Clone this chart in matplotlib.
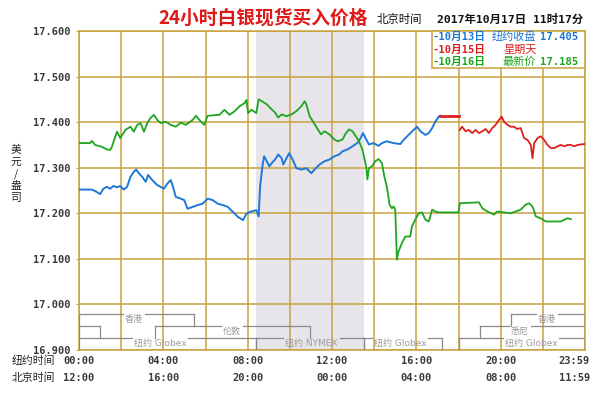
import matplotlib
matplotlib.use('Agg')
import matplotlib.pyplot as plt
import matplotlib.transforms as mtrans
from matplotlib.patches import Rectangle

plt.rcParams['font.family'] = ['DejaVu Sans', 'Noto Sans CJK SC']

# ---------------- data ----------------
blue_hours = [0, 0.61, 0.84, 1.00, 1.16, 1.32, 1.48, 1.64, 1.80, 1.96, 2.12, 2.28, 2.44, 2.60, 2.71, 2.84,
              3.00, 3.16, 3.28, 3.47, 3.71, 3.87, 4.03, 4.19, 4.35, 4.46, 4.59, 4.83, 4.99, 5.15, 5.39,
              5.63, 5.86, 6.10, 6.34, 6.58, 6.82, 7.06, 7.30, 7.54, 7.78, 7.94, 8.10, 8.41, 8.52, 8.59,
              8.70, 8.78, 8.91, 9.03, 9.14, 9.30, 9.45, 9.61, 9.69, 9.84, 9.97, 10.13, 10.31, 10.55,
              10.78, 11.02, 11.17, 11.41, 11.64, 11.88, 12.11, 12.34, 12.50, 12.73, 12.97, 13.20,
              13.36, 13.47, 13.59, 13.75, 13.97, 14.21, 14.37, 14.60, 14.92, 15.24, 15.40, 15.63,
              15.87, 16.03, 16.19, 16.43, 16.59, 16.75, 16.90, 17.06, 17.14]
blue_vals = [17.252, 17.252, 17.247, 17.242, 17.254, 17.258, 17.254, 17.260, 17.257, 17.260, 17.252,
             17.258, 17.280, 17.291, 17.296, 17.288, 17.280, 17.269, 17.284, 17.273, 17.262, 17.258,
             17.254, 17.265, 17.273, 17.258, 17.236, 17.232, 17.229, 17.210, 17.214, 17.218, 17.221,
             17.232, 17.229, 17.221, 17.218, 17.214, 17.203, 17.192, 17.185, 17.199, 17.203, 17.207,
             17.193, 17.259, 17.303, 17.325, 17.314, 17.303, 17.310, 17.318, 17.329, 17.321, 17.307,
             17.321, 17.332, 17.318, 17.299, 17.296, 17.299, 17.288, 17.296, 17.307, 17.314, 17.318,
             17.325, 17.329, 17.336, 17.340, 17.347, 17.354, 17.365, 17.376, 17.365, 17.351, 17.354,
             17.348, 17.354, 17.358, 17.354, 17.352, 17.361, 17.372, 17.383, 17.390, 17.380, 17.372,
             17.376, 17.387, 17.401, 17.412, 17.414]

red_flat_hours = [17.14, 18.0]
red_flat_vals = [17.413, 17.413]

red_hours = [18.06, 18.17, 18.33, 18.49, 18.65, 18.81, 18.97, 19.13, 19.29, 19.44, 19.60, 19.76, 19.92,
             20.05, 20.16, 20.32, 20.48, 20.63, 20.79, 20.95, 21.11, 21.27, 21.43, 21.51, 21.59, 21.75,
             21.90, 22.06, 22.22, 22.38, 22.54, 22.70, 22.86, 23.02, 23.17, 23.33, 23.49, 23.65, 23.97]
red_vals = [17.383, 17.390, 17.380, 17.383, 17.376, 17.383, 17.376, 17.380, 17.385, 17.376, 17.387,
            17.394, 17.405, 17.412, 17.401, 17.394, 17.390, 17.390, 17.385, 17.387, 17.365, 17.361,
            17.350, 17.321, 17.354, 17.365, 17.369, 17.361, 17.350, 17.343, 17.343, 17.347, 17.350,
            17.347, 17.350, 17.350, 17.347, 17.350, 17.352]

green_hours = [0, 0.53, 0.61, 0.76, 1.08, 1.32, 1.48, 1.56, 1.80, 1.96, 2.20, 2.44, 2.60, 2.76, 2.92,
               3.08, 3.24, 3.39, 3.55, 3.71, 3.87, 4.11, 4.35, 4.59, 4.83, 5.07, 5.39, 5.55, 5.78, 5.94,
               6.10, 6.66, 6.90, 7.14, 7.38, 7.62, 7.86, 7.94, 8.02, 8.18, 8.41, 8.52, 8.67, 8.91, 9.14,
               9.30, 9.45, 9.61, 9.84, 10.08, 10.31, 10.55, 10.70, 10.78, 10.94, 11.09, 11.33, 11.48,
               11.64, 11.88, 12.11, 12.27, 12.50, 12.66, 12.81, 12.97, 13.13, 13.28, 13.44, 13.62,
               13.68, 13.75, 13.89, 14.05, 14.21, 14.37, 14.48, 14.60, 14.73, 14.84, 14.92, 15.00,
               15.08, 15.13, 15.32, 15.48, 15.71, 15.79, 15.95, 16.11, 16.27, 16.43, 16.59, 16.75,
               16.90, 17.06, 18.00, 18.06, 18.97, 19.13, 19.37, 19.68, 19.84, 20.16, 20.48, 20.71,
               20.95, 21.19, 21.35, 21.51, 21.67, 21.90, 22.14, 22.86, 23.02, 23.17, 23.33]
green_vals = [17.354, 17.354, 17.359, 17.350, 17.346, 17.340, 17.339, 17.346, 17.379, 17.365, 17.383,
              17.390, 17.379, 17.394, 17.398, 17.379, 17.398, 17.409, 17.416, 17.405, 17.398, 17.401,
              17.394, 17.390, 17.399, 17.394, 17.405, 17.414, 17.401, 17.394, 17.414, 17.416, 17.427,
              17.416, 17.424, 17.435, 17.442, 17.449, 17.420, 17.427, 17.420, 17.450, 17.446, 17.439,
              17.428, 17.421, 17.410, 17.417, 17.413, 17.417, 17.424, 17.435, 17.446, 17.439, 17.413,
              17.402, 17.384, 17.373, 17.380, 17.373, 17.362, 17.358, 17.362, 17.376, 17.384, 17.380,
              17.369, 17.358, 17.340, 17.303, 17.274, 17.299, 17.303, 17.314, 17.319, 17.310, 17.281,
              17.259, 17.219, 17.211, 17.215, 17.208, 17.098, 17.113, 17.135, 17.149, 17.149, 17.171,
              17.186, 17.200, 17.202, 17.186, 17.182, 17.208, 17.204, 17.202, 17.202, 17.222, 17.224,
              17.211, 17.204, 17.197, 17.204, 17.202, 17.200, 17.204, 17.208, 17.219, 17.222, 17.215,
              17.193, 17.189, 17.182, 17.182, 17.186, 17.189, 17.187]

y_ticks = [16.9, 17.0, 17.1, 17.2, 17.3, 17.4, 17.5, 17.6]
y_tick_labels = ['16.900', '17.000', '17.100', '17.200', '17.300', '17.400', '17.500', '17.600']
x_label_hours = [0, 4, 8, 12, 16, 20, 23.5]
ny_labels = ['00:00', '04:00', '08:00', '12:00', '16:00', '20:00', '23:59']
bj_labels = ['12:00', '16:00', '20:00', '00:00', '04:00', '08:00', '11:59']
y_label_chars = ['美', '元', '/', '盎', '司']

nymex_start, nymex_end = 8.4, 13.5

row_tops = {'hk': 16.978, 'ldn': 16.953, 'glb': 16.926}
row_bottoms = {'hk': 16.953, 'ldn': 16.926, 'glb': 16.9}
sess_rows = ['hk', 'hk', 'ldn', 'ldn', 'ldn', 'glb', 'glb', 'glb', 'glb']
sess_start = [0, 20.5, 0, 3.6, 19.0, 0, 8.4, 13.5, 18.0]
sess_end = [5.45, 24, 1.0, 10.96, 24, 8.4, 13.5, 17.2, 24]
sess_label = ['香港', '香港', '', '伦敦', '悉尼', '纽约 Globex', '纽约 NYMEX', '纽约 Globex', '纽约 Globex']
sess_label_x = [2.6, 22.2, 0, 7.24, 20.9, 3.84, 11.03, 15.23, 21.44]

legend_dates = ['-10月13日', '-10月15日', '-10月16日']
legend_desc = ['纽约收盘', '星期天', '最新价']
legend_vals = ['17.405', '', '17.185']

# ---------------- styles ----------------
GOLD = '#C9A23E'
BLUE = '#1F78D8'
RED = '#DD1F1F'
GREEN = '#1FA51F'
GRAYTXT = '#9A9A9A'
BOXLINE = '#8A8A8A'
W, H = 602, 393

fig = plt.figure(figsize=(W / 100, H / 100), dpi=100)
fig.patch.set_facecolor('white')
ax = fig.add_axes([79 / W, 1 - 350 / H, (585 - 79) / W, (350 - 31) / H])
ax.set_xlim(0, 24)
ax.set_ylim(16.9, 17.6)

ax.axvspan(nymex_start, nymex_end, color='#E7E5E9', zorder=0, lw=0)

for h in range(0, 25, 2):
    ax.axvline(h, color=GOLD, lw=1.1, zorder=1)
for v in y_ticks:
    ax.axhline(v, color=GOLD, lw=1.1, zorder=1)
for s in ax.spines.values():
    s.set_color(GOLD)
    s.set_linewidth(1.1)

ax.set_xticks([])
ax.set_yticks(y_ticks)
ax.set_yticklabels(y_tick_labels, family='DejaVu Sans Mono', fontweight='bold',
                   fontsize=7.5, color='#3A3A3A')
ax.tick_params(axis='y', length=2, color=GOLD, pad=4)

ax.plot(blue_hours, blue_vals, color=BLUE, lw=1.4, zorder=4)
ax.plot(green_hours, green_vals, color=GREEN, lw=1.3, zorder=4)
ax.plot(red_flat_hours, red_flat_vals, color=RED, lw=2.0, zorder=4)
ax.plot(red_hours, red_vals, color=RED, lw=1.3, zorder=4)

# session brackets
fig.canvas.draw()
renderer = fig.canvas.get_renderer()
inv = ax.transData.inverted()
for row, s0, s1, lab, lx in zip(sess_rows, sess_start, sess_end, sess_label, sess_label_x):
    top, bot = row_tops[row], row_bottoms[row]
    ax.plot([s0, s0], [top, bot], color=BOXLINE, lw=0.9, zorder=3)
    ax.plot([s1, s1], [top, bot], color=BOXLINE, lw=0.9, zorder=3)
    if lab:
        t = ax.text(lx, top - 0.012, lab, ha='center', va='center', fontsize=6.5,
                    color=GRAYTXT, zorder=3)
        bb = t.get_window_extent(renderer)
        x0 = inv.transform((bb.x0 - 2, 0))[0]
        x1 = inv.transform((bb.x1 + 2, 0))[0]
        ax.plot([s0, x0], [top, top], color=BOXLINE, lw=0.9, zorder=3)
        ax.plot([x1, s1], [top, top], color=BOXLINE, lw=0.9, zorder=3)
    else:
        ax.plot([s0, s1], [top, top], color=BOXLINE, lw=0.9, zorder=3)

# x labels (two rows)
bt = mtrans.blended_transform_factory(ax.transData, fig.transFigure)
for h, a, b in zip(x_label_hours, ny_labels, bj_labels):
    ax.text(h, 1 - 361 / H, a, transform=bt, ha='center', va='center', fontsize=7.5,
            family='DejaVu Sans Mono', fontweight='bold', color='#3A3A3A')
    ax.text(h, 1 - 378 / H, b, transform=bt, ha='center', va='center', fontsize=7.5,
            family='DejaVu Sans Mono', fontweight='bold', color='#3A3A3A')
fig.text(12 / W, 1 - 361 / H, '纽约时间', ha='left', va='center', fontsize=7.8, color='#222222')
fig.text(12 / W, 1 - 378 / H, '北京时间', ha='left', va='center', fontsize=7.8, color='#222222')

# y label (stacked, one character per line)
for i, ch in enumerate(y_label_chars):
    fig.text(16 / W, 1 - (150 + 12 * i) / H, ch, ha='center', va='center', fontsize=7.8,
             color='#222222', family=['Noto Sans CJK SC', 'DejaVu Sans'])

# title
fig.text(263 / W, 1 - 18 / H, '24小时白银现货买入价格', ha='center', va='center', fontsize=13.5,
         color='#E01818', fontweight='bold', family=['Noto Sans CJK SC'])
fig.text(377 / W, 1 - 19 / H, '北京时间', ha='left', va='center', fontsize=8.2, color='#111111')
fig.text(437 / W, 1 - 19 / H, '2017年10月17日 11时17分', ha='left', va='center', fontsize=8.2,
         color='#111111', family=['DejaVu Sans Mono', 'Noto Sans CJK SC'], fontweight='bold')

# legend box
fig.patches.append(Rectangle((432 / W, 1 - 68 / H), (585 - 432) / W, (68 - 31) / H,
                             transform=fig.transFigure, facecolor='white', edgecolor=GOLD,
                             lw=1.1, zorder=5))
rows_y = [37, 50, 62]
cols = [BLUE, RED, GREEN]
desc_x = [492, 503, 503]
for yy, c, d, dx, dsc, val in zip(rows_y, cols, legend_dates, desc_x, legend_desc, legend_vals):
    fig.text(433 / W, 1 - yy / H, d, ha='left', va='center', fontsize=7.6, color=c,
             family=['DejaVu Sans Mono', 'Noto Sans CJK SC'], fontweight='bold', zorder=6)
    fig.text(dx / W, 1 - yy / H, dsc, ha='left', va='center', fontsize=8, color=c, zorder=6)
    if val:
        fig.text(578 / W, 1 - yy / H, val, ha='right', va='center', fontsize=7.6, color=c,
                 family='DejaVu Sans Mono', fontweight='bold', zorder=6)

fig.savefig('out.png', dpi=100, facecolor='white')
